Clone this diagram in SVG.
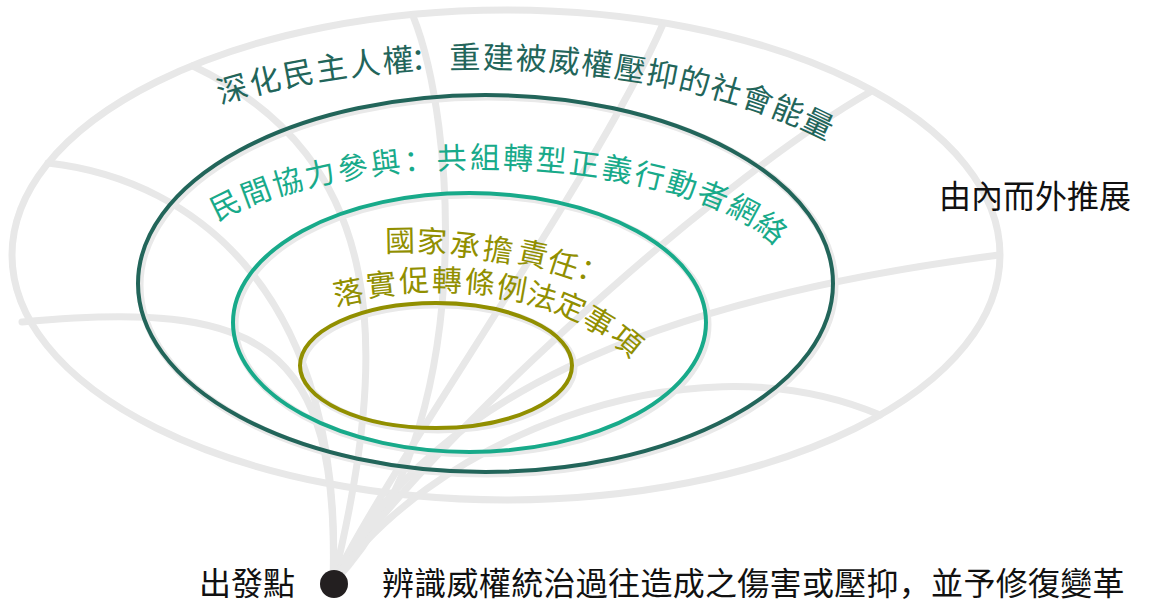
<svg xmlns="http://www.w3.org/2000/svg" width="1151" height="603" viewBox="0 0 1151 603">
<style>
.rib{fill:none;stroke:#e8e8e8;stroke-width:7;stroke-linecap:round}
.ring{fill:none;stroke-width:4}
.shadow{fill:none;stroke:#e9e9e9;stroke-width:7}
.t{font-family:"Noto Sans CJK SC","Noto Sans CJK TC",sans-serif}
</style>
<rect width="1151" height="603" fill="#ffffff"/>
<g id="funnel-lines">
<ellipse class="rib" cx="506" cy="255" rx="494" ry="245"/>
<path class="rib" d="M333,583 C345,300 200,180 48,163"/>
<path class="rib" d="M333,583 C340,340 260,300 22,322"/>
<path class="rib" d="M333,583 C390,350 390,160 193,66"/>
<path class="rib" d="M333,583 C480,430 455,120 413,16"/>
<path class="rib" d="M333,583 C380,480 600,170 663,24"/>
<path class="rib" d="M333,583 C400,470 700,190 870,92"/>
<path class="rib" d="M333,583 C420,400 650,300 999,255"/>
<path class="rib" d="M333,583 C420,450 680,330 880,415"/>
</g>
<g id="ring-outer">
<ellipse class="shadow" cx="487.5" cy="285.5" rx="347.5" ry="188.5"/>
<ellipse class="ring" stroke="#22655a" cx="485.5" cy="283.5" rx="347.5" ry="188.5"/>
<text class="t" font-size="31" fill="#22655a" x="220.3 252.6 285.0 317.7 350.6 383.4 411 449.5 482.4 515.2 548.0 580.6 612.9 645.1 676.9 708.3 739.3 769.4 799.0" y="103.9 94.9 87.5 81.3 76.4 72.7 70.2 68.7 68.3 69.0 70.7 73.5 77.4 82.5 88.7 96.2 105.0 115.3 127.1" rotate="-15.7 -13.1 -10.8 -8.6 -6.5 -4.5 -2.6 -0.8 1.1 2.95 4.9 6.8 8.9 11.0 13.3 15.9 18.7 21.8 25.5">深化民主人權：重建被威權壓抑的社會能量</text>
</g>
<g id="ring-middle">
<ellipse class="shadow" cx="471.5" cy="324.5" rx="236.5" ry="129.5"/>
<ellipse class="ring" stroke="#18aa8a" cx="469.5" cy="322.5" rx="236.5" ry="129.5"/>
<text class="t" font-size="30" fill="#18aa8a" x="216.7 245.5 275.9 307.3 339.4 371.7 404.4 437.1 469.9 502.7 535.6 568.2 600.7 632.8 664.5 695.3 725.0 752.5" y="221.3 207.4 196.3 187.5 180.7 175.4 171.7 169.4 168.3 168.6 170.1 173.0 177.2 183.0 190.5 200.0 211.8 226.6" rotate="-26.3 -20.3 -15.8 -12.2 -9.3 -6.6 -4.2 -1.9 0.3 2.6 4.9 7.4 10.1 13.2 17.0 21.8 28.6 39.5">民間協力參與：共組轉型正義行動者網絡</text>
</g>
<g id="ring-inner">
<ellipse class="shadow" cx="438" cy="367.5" rx="136" ry="62.5"/>
<ellipse class="ring" stroke="#918f00" cx="436" cy="365.5" rx="136" ry="62.5"/>
<text class="t" font-size="30" fill="#918f00" x="385.2 416.4 448.9 481.6 516.0 545.2 575.3" y="251.7 251.6 254.8 258.7 261.5 269.7 276.0" rotate="-1 3 6 8 12 18 22">國家承擔責任：</text>
<text class="t" font-size="30" fill="#918f00" x="335.5 367.3 399.4 431.8 464.1 495.2 524.4 552.7 580.3 608.2" y="306.1 296.9 291.9 291.1 292.0 296.6 302.8 310.6 323.0 339.4" rotate="-11 -6 -2 1 5 10 16 23 31 39">落實促轉條例法定事項</text>
</g>
<g id="direction-label">
<text class="t" font-size="32" fill="#111111" x="939" y="208">由內而外推展</text>
</g>
<g id="start-point">
<circle cx="334" cy="584" r="14" fill="#231f20"/>
<text class="t" font-size="32" fill="#111111" x="199" y="595">出發點</text>
<text class="t" font-size="32" fill="#111111" x="382" y="595" letter-spacing="0.3">辨識威權統治過往造成之傷害或壓抑，並予修復變革</text>
</g>
</svg>
